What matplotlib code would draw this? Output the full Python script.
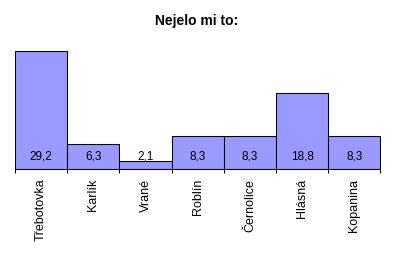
import matplotlib
matplotlib.use('Agg')
import matplotlib.pyplot as plt
import numpy as np

# data
mista = ['Třebotovka', 'Karlík', 'Vrané', 'Roblín', 'Černolice', 'Hlásná', 'Kopanina']
hodnoty = [29.2, 6.3, 2.1, 8.3, 8.3, 18.8, 8.3]
popisky = ['29,2', '6,3', '2,1', '8,3', '8,3', '18,8', '8,3']

plt.rcParams['font.family'] = ['Liberation Sans', 'DejaVu Sans']

W, H = 395, 256
fig = plt.figure(figsize=(W/100, H/100), dpi=100)
# axes placed in pixels: left 15, right 380.5, baseline at 169
ax = fig.add_axes([15/W, (H-169)/H, 365.5/W, 121/H])

x = np.arange(len(mista))
ax.bar(x, hodnoty, width=1, color='#9999FF', edgecolor='black', linewidth=0.75)
ax.set_xlim(-0.5, len(mista)-0.5)
ax.set_ylim(0, 30)

for xi, lab in zip(x, popisky):
    ax.annotate(lab, (xi, 0), xytext=(0, 6.5), textcoords='offset points',
                ha='center', va='baseline', fontsize=8.5)

for s in ['top', 'left', 'right']:
    ax.spines[s].set_visible(False)
ax.spines['bottom'].set_linewidth(0.75)
ax.set_yticks([])
ax.set_xticks(np.arange(len(mista)+1)-0.5)
ax.set_xticklabels([])
ax.tick_params(axis='x', which='major', direction='out', length=3, width=0.75)
ax.set_xticks(x, minor=True)
ax.set_xticklabels(mista, minor=True, rotation=90, fontsize=9, va='top')
ax.tick_params(axis='x', which='minor', length=0, pad=7)

fig.text(197/W, 1-21/H, 'Nejelo mi to:', ha='center', va='center',
         fontsize=10, fontweight='bold')

plt.savefig('out.png', dpi=100)
